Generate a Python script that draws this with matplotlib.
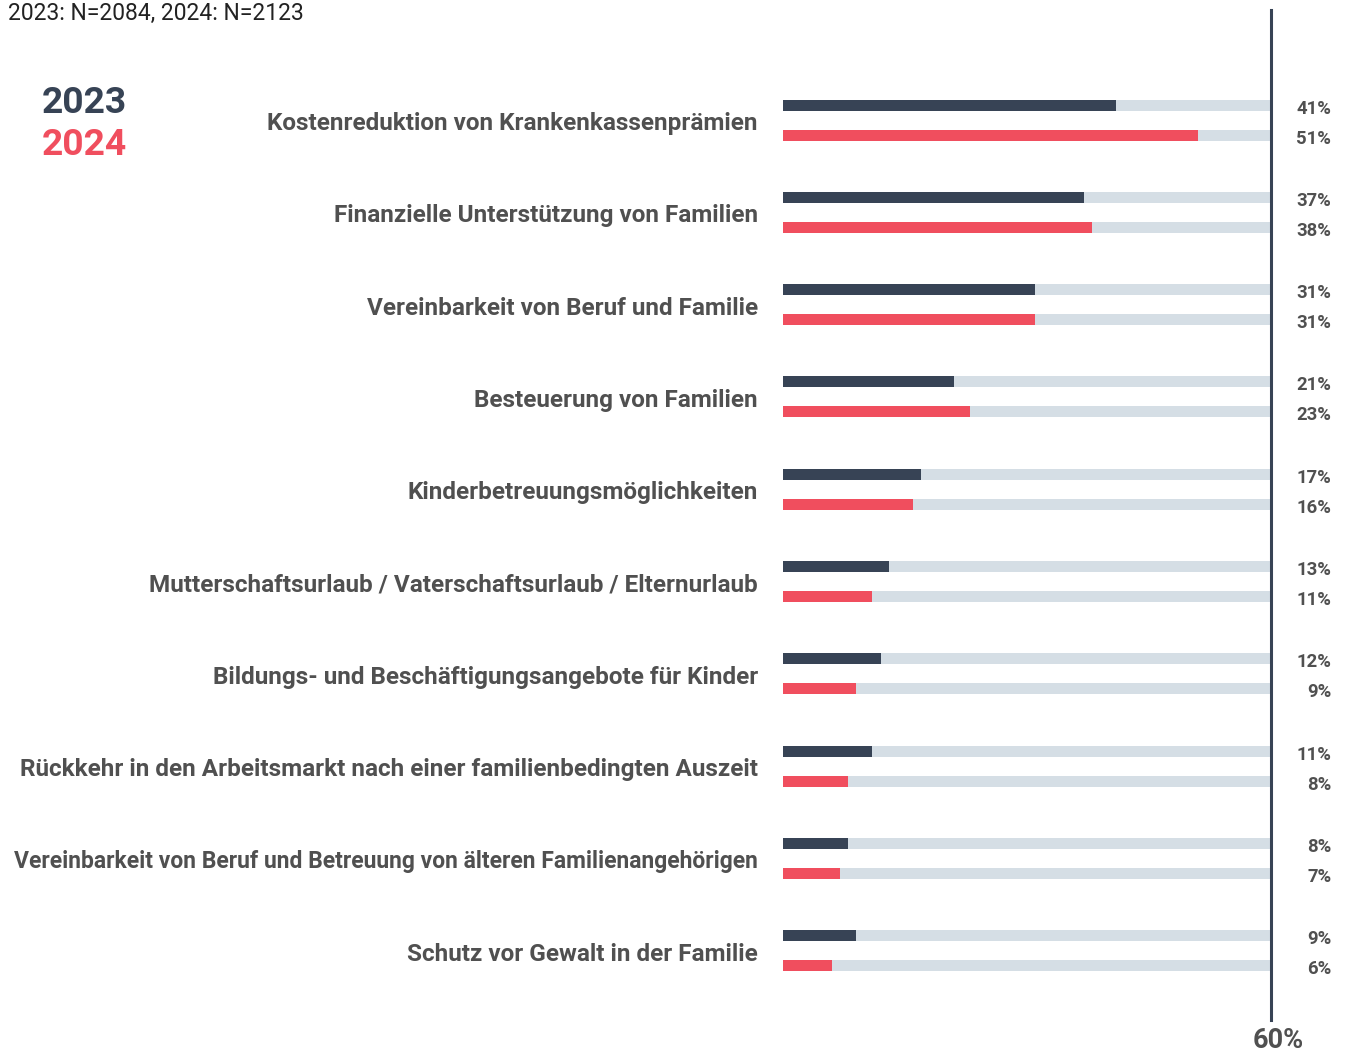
import matplotlib
matplotlib.use("Agg")
import numpy as np
from matplotlib import pyplot as plt

plt.rcParams['font.family'] = ['Roboto', 'DejaVu Sans']

# data
categories = [
    "Kostenreduktion von Krankenkassenprämien",
    "Finanzielle Unterstützung von Familien",
    "Vereinbarkeit von Beruf und Familie",
    "Besteuerung von Familien",
    "Kinderbetreuungsmöglichkeiten",
    "Mutterschaftsurlaub / Vaterschaftsurlaub / Elternurlaub",
    "Bildungs- und Beschäftigungsangebote für Kinder",
    "Rückkehr in den Arbeitsmarkt nach einer familienbedingten Auszeit",
    "Vereinbarkeit von Beruf und Betreuung von älteren Familienangehörigen",
    "Schutz vor Gewalt in der Familie",
]
values_2023 = [41, 37, 31, 21, 17, 13, 12, 11, 8, 9]
values_2024 = [51, 38, 31, 23, 16, 11, 9, 8, 7, 6]
scale_max = 60

C2023 = '#374355'
C2024 = '#F04E5E'
CBG = '#D5DEE5'
CTXT = '#505050'

W, H = 1345, 1053
fig = plt.figure(figsize=(W / 100, H / 100), dpi=100)

# axes placed in pixels
left_px, right_px, top_px, bot_px = 783, 1271, 10, 1020
ax = fig.add_axes([left_px / W, 1 - bot_px / H, (right_px - left_px) / W, (bot_px - top_px) / H])

spacing = 92.3
ax.set_xlim(0, scale_max)
ax.set_ylim((bot_px - 120) / spacing, -(120 - top_px) / spacing)
ax.axis('off')

y = np.arange(len(categories))
off = 15 / spacing
bh = 11 / spacing
txt_shift = 3.5 / spacing

ax.barh(y - off, [scale_max] * len(y), height=bh, color=CBG, left=0)
ax.barh(y + off, [scale_max] * len(y), height=bh, color=CBG, left=0)
ax.barh(y - off, values_2023, height=bh, color=C2023)
ax.barh(y + off, values_2024, height=bh, color=C2024)

ax.axvline(scale_max, color=C2023, lw=2.2, clip_on=False)

renderer = fig.canvas.get_renderer()
for i, cat in enumerate(categories):
    t = ax.text(-3.1, i + txt_shift, cat, ha='right', va='center', fontsize=17.5,
                fontweight='bold', color=CTXT, clip_on=False)
    # shrink the long labels so they stay inside the figure
    while t.get_window_extent(renderer).x0 < 12:
        t.set_fontsize(t.get_fontsize() - 0.1)
    ax.text(67.4, i - off + txt_shift, f"{values_2023[i]}%", ha='right', va='center',
            fontsize=13.3, fontweight='bold', color=CTXT, clip_on=False)
    ax.text(67.4, i + off + txt_shift, f"{values_2024[i]}%", ha='right', va='center',
            fontsize=13.3, fontweight='bold', color=CTXT, clip_on=False)

fig.text(8 / W, 1 - 2 / H, "2023: N=2084, 2024: N=2123", ha='left', va='top',
         fontsize=16.5, fontweight='normal', color='#222222')
fig.text(42 / W, 1 - 103 / H, "2023", ha='left', va='center', fontsize=26.8,
         fontweight='bold', color=C2023)
fig.text(42 / W, 1 - 145 / H, "2024", ha='left', va='center', fontsize=26.8,
         fontweight='bold', color=C2024)
fig.text(1278 / W, 1 - 1040 / H, f"{scale_max}%", ha='center', va='center',
         fontsize=19.5, fontweight='bold', color=CTXT)

fig.savefig("out.png", dpi=100, facecolor='white')
